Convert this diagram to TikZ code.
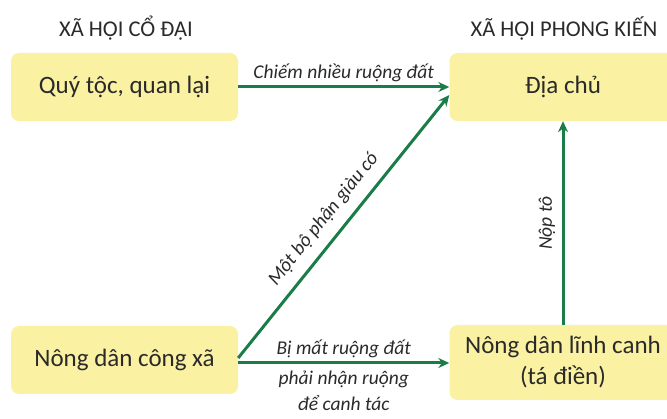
\documentclass[tikz,border=0pt]{standalone}
\usepackage{fontspec}
\setmainfont{Carlito}
\usetikzlibrary{arrows.meta}
\definecolor{boxyellow}{HTML}{FBF1A2}
\definecolor{arrgreen}{HTML}{1A7D48}
\definecolor{textgray}{HTML}{2A2A2A}
\begin{document}
\begin{tikzpicture}[x = 1pt, y = -1pt,
  box/.style = {fill=boxyellow, rounded corners=8pt, minimum width=227pt, minimum height=68pt, align=center, text=textgray, font=\fontsize{25}{31}\selectfont},
  arr/.style = {draw=arrgreen, line width=3pt, -{Stealth[length=11pt, width=10pt]}},
  lbl/.style = {text=textgray, font=\itshape\fontsize{19.5}{26}\selectfont, align=center},
  title/.style = {text=textgray, font=\fontsize{22.5}{26}\selectfont}]
\useasboundingbox (0,0) rectangle (667,419);
\node[title] (T1) at (126,28) {XÃ HỘI CỔ ĐẠI};
\node[title] (T2) at (564,28) {XÃ HỘI PHONG KIẾN};
\node[box] (QT) at (124.5,87) {Quý tộc, quan lại};
\node[box] (DC) at (563,87) {Địa chủ};
\node[box] (ND) at (124.5,360) {Nông dân công xã};
\node[box, minimum height=75pt] (LC) at (563,362.5) {Nông dân lĩnh canh\\(tá điền)};

\draw[arr] (QT.east) -- node[lbl, above=0pt]{Chiếm nhiều ruộng đất} (DC.west);
\draw[arr] ([yshift=2pt]ND.east) -- node[lbl, sloped, above=7pt, pos=0.48]{Một bộ phận giàu có} ([yshift=-8pt]DC.west);
\draw[arr] ([yshift=-3pt]ND.east) -- node[lbl, above=0pt]{Bị mất ruộng đất} node[lbl, below=3pt]{phải nhận ruộng\\để canh tác} ([yshift=-3pt]ND.east -| LC.west);
\draw[arr] (LC.north) -- node[lbl, sloped, above=3pt]{Nộp tô} (DC.south);
\end{tikzpicture}
\end{document}
